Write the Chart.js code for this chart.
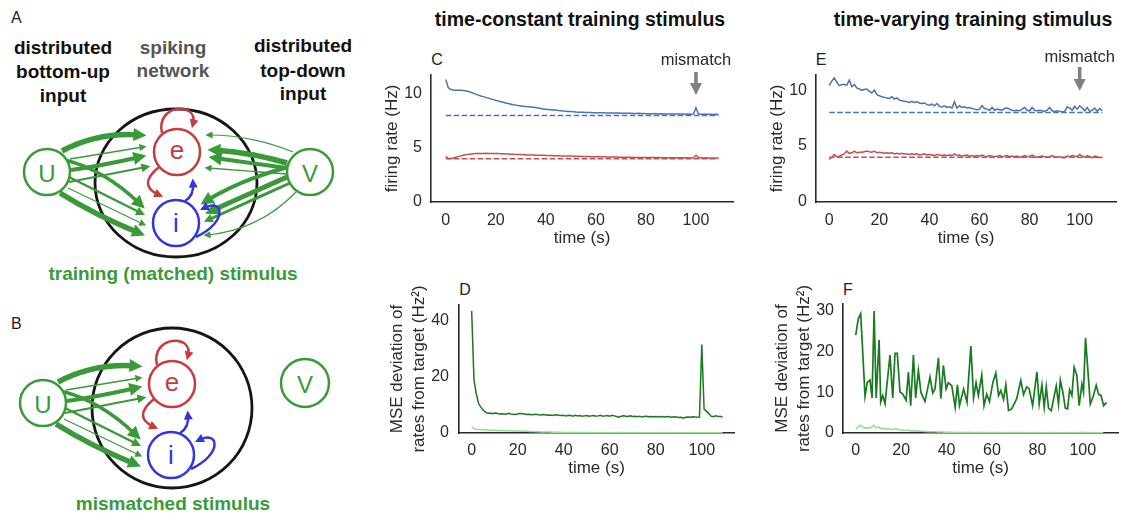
<!DOCTYPE html>
<html>
<head>
<meta charset="utf-8">
<script src="https://cdn.jsdelivr.net/npm/chart.js@4/dist/chart.umd.min.js"></script>
<style>
  html,body{margin:0;padding:0;background:#fff;}
  body{width:1122px;height:514px;position:relative;overflow:hidden;font-family:"Liberation Sans",Arial,Helvetica,sans-serif;color:#222;}
  .t{position:absolute;transform:translate(-50%,-50%);white-space:nowrap;line-height:1;}
  .title{font-weight:bold;font-size:19.5px;color:#111;}
  .lab{font-size:16px;color:#222;}
  canvas{position:absolute;}
</style>
</head>
<body>

<svg width="380" height="514" style="position:absolute;left:0;top:0" font-family="Liberation Sans, Arial, sans-serif">
  <defs>
    <marker id="gL" viewBox="0 0 10 10" refX="5" refY="5" markerWidth="16" markerHeight="13" markerUnits="userSpaceOnUse" orient="auto"><path d="M0,0 L10,5 L0,10 z" fill="#3a9a3a"/></marker>
    <marker id="gM" viewBox="0 0 10 10" refX="5" refY="5" markerWidth="11" markerHeight="9" markerUnits="userSpaceOnUse" orient="auto"><path d="M0,0 L10,5 L0,10 z" fill="#3a9a3a"/></marker>
    <marker id="gS" viewBox="0 0 10 10" refX="5" refY="5" markerWidth="8" markerHeight="7" markerUnits="userSpaceOnUse" orient="auto"><path d="M0,0 L10,5 L0,10 z" fill="#3a9a3a"/></marker>
    <marker id="rH" viewBox="0 0 10 10" refX="5" refY="5" markerWidth="10" markerHeight="9" markerUnits="userSpaceOnUse" orient="auto"><path d="M0,0 L10,5 L0,10 z" fill="#c43c3c"/></marker>
    <marker id="bH" viewBox="0 0 10 10" refX="5" refY="5" markerWidth="10" markerHeight="9" markerUnits="userSpaceOnUse" orient="auto"><path d="M0,0 L10,5 L0,10 z" fill="#3535e0"/></marker>
    <g id="uGroup" fill="none" stroke="#3a9a3a">
      <path d="M62,151 Q98,132 140,135" stroke-width="5.5" marker-end="url(#gL)"/>
      <path d="M70,159 L143,147" stroke-width="1.3" marker-end="url(#gS)"/>
      <path d="M71,170 Q100,166 140,157" stroke-width="4" marker-end="url(#gL)"/>
      <path d="M69,182 L146,167" stroke-width="2" marker-end="url(#gM)"/>
      <path d="M65,160 Q105,170 140,204" stroke-width="3.5" marker-end="url(#gL)"/>
      <path d="M69,177 L141,213" stroke-width="2.5" marker-end="url(#gM)"/>
      <path d="M68,188 L143,224" stroke-width="1.2" marker-end="url(#gS)"/>
      <path d="M60,193 Q95,215 139,233" stroke-width="5.5" marker-end="url(#gL)"/>
      <circle cx="47" cy="172" r="23" fill="#fff" stroke-width="2.5"/>
      <text x="47" y="173" fill="#3a9a3a" stroke="none" font-size="24" text-anchor="middle" dominant-baseline="central">U</text>
    </g>
    <g id="netGroup" fill="none">
      <path d="M162,133 C155,104 199,101 193,124" stroke="#c43c3c" stroke-width="2.5" marker-end="url(#rH)"/>
      <path d="M159,167 Q137,185 159,195" stroke="#c43c3c" stroke-width="2.5" marker-end="url(#rH)"/>
      <path d="M185,201 Q194,196 193,183" stroke="#3535e0" stroke-width="2.5" marker-end="url(#bH)"/>
      <path d="M196,237 C228,222 224,198 204,208" stroke="#3535e0" stroke-width="2.5" marker-end="url(#bH)"/>
      <circle cx="177" cy="152" r="23" stroke="#c43c3c" stroke-width="2.5"/>
      <circle cx="176" cy="223" r="23" stroke="#3535e0" stroke-width="2.5"/>
      <text x="177" y="150" fill="#c43c3c" font-size="26" text-anchor="middle" dominant-baseline="central">e</text>
      <text x="176" y="223" fill="#3535e0" font-size="26" text-anchor="middle" dominant-baseline="central">i</text>
    </g>
  </defs>

  <!-- Panel A -->
  <text x="11" y="23" font-size="16" fill="#222">A</text>
  <g font-weight="bold" font-size="19" text-anchor="middle" fill="#111">
    <text x="63" y="54">distributed</text>
    <text x="63" y="78">bottom-up</text>
    <text x="63" y="102">input</text>
    <text x="173" y="54" fill="#555">spiking</text>
    <text x="173" y="77" fill="#555">network</text>
    <text x="303" y="52">distributed</text>
    <text x="303" y="77">top-down</text>
    <text x="303" y="100">input</text>
  </g>
  <ellipse cx="176" cy="183" rx="81" ry="74" fill="none" stroke="#151515" stroke-width="2.8"/>
  <use href="#uGroup"/>
  <g fill="none" stroke="#3a9a3a">
    <path d="M293,152 Q250,135 209,135" stroke-width="1.2" marker-end="url(#gS)"/>
    <path d="M287,163 Q250,152 214,150" stroke-width="5.5" marker-end="url(#gL)"/>
    <path d="M287,168 L215,158" stroke-width="4" marker-end="url(#gL)"/>
    <path d="M287,174 L208,168" stroke-width="1.3" marker-end="url(#gS)"/>
    <path d="M288,167 Q240,180 206,201" stroke-width="4" marker-end="url(#gL)"/>
    <path d="M287,177 L211,211" stroke-width="5" marker-end="url(#gL)"/>
    <path d="M290,183 L208,220" stroke-width="3" marker-end="url(#gM)"/>
    <path d="M297,191 Q260,230 207,235" stroke-width="1.2" marker-end="url(#gS)"/>
    <circle cx="310" cy="172" r="23" fill="#fff" stroke-width="2.5"/>
    <text x="310" y="173" fill="#3a9a3a" stroke="none" font-size="24" text-anchor="middle" dominant-baseline="central">V</text>
  </g>
  <use href="#netGroup"/>
  <text x="173" y="280" font-size="19" font-weight="bold" fill="#3a9a3a" text-anchor="middle">training (matched) stimulus</text>

  <!-- Panel B -->
  <text x="11" y="329" font-size="16" fill="#222">B</text>
  <circle cx="172" cy="408" r="80" fill="none" stroke="#151515" stroke-width="2.8"/>
  <use href="#uGroup" transform="translate(-4,231)"/>
  <use href="#netGroup" transform="translate(-5,232)"/>
  <circle cx="305" cy="383" r="24" fill="none" stroke="#3a9a3a" stroke-width="2.5"/>
  <text x="305" y="384" fill="#3a9a3a" font-size="24" text-anchor="middle" dominant-baseline="central">V</text>
  <text x="173" y="510" font-size="19" font-weight="bold" fill="#3a9a3a" text-anchor="middle">mismatched stimulus</text>
</svg>

<div class="t title" style="left:580px;top:20px">time-constant training stimulus</div>
<div class="t title" style="left:973px;top:20px">time-varying training stimulus</div>
<div class="t lab" style="left:437px;top:60px">C</div>
<div class="t lab" style="left:821px;top:60px">E</div>
<div class="t lab" style="left:465px;top:290px">D</div>
<div class="t lab" style="left:848px;top:290px">F</div>

<canvas id="cC" width="370" height="220" style="left:380px;top:40px"></canvas>
<canvas id="cE" width="372" height="220" style="left:750px;top:40px"></canvas>
<canvas id="cD" width="370" height="210" style="left:380px;top:280px"></canvas>
<canvas id="cF" width="372" height="210" style="left:750px;top:280px"></canvas>

<script>
// ---------------- data ----------------
const seconds = Array.from({length:110}, (_, i) => i);   // sampling grid (s)
const timeTicks = [0, 20, 40, 60, 80, 100];
const rateTicks = [0, 5, 10];
const mseTicksD = [0, 20, 40];
const mseTicksF = [0, 10, 20, 30];
const mismatchTime = 100;
const targetTimes = [0, 109];
const targetI = [8, 8];   // inhibitory target rate (Hz)
const targetE = [4, 4];   // excitatory target rate (Hz)

// Panel C: time-constant stimulus, firing rates
const cBlue = [
 11.35,10.6,10.42,10.37,10.35,10.34,10.35,10.33,10.3,10.24,
 10.16,10.08,9.99,9.9,9.82,9.76,9.69,9.62,9.55,9.48,
 9.41,9.35,9.29,9.23,9.17,9.12,9.06,9.0,8.97,8.93,
 8.9,8.87,8.84,8.82,8.8,8.77,8.74,8.7,8.66,8.62,
 8.58,8.57,8.55,8.53,8.51,8.48,8.46,8.43,8.41,8.39,
 8.37,8.35,8.33,8.32,8.3,8.31,8.29,8.28,8.28,8.27,
 8.27,8.26,8.27,8.26,8.25,8.25,8.24,8.24,8.23,8.23,
 8.22,8.22,8.21,8.22,8.21,8.2,8.2,8.21,8.19,8.19,
 8.18,8.18,8.17,8.18,8.17,8.16,8.17,8.16,8.16,8.15,
 8.15,8.16,8.14,8.15,8.14,8.14,8.13,8.14,8.13,8.14,
 8.72,8.15,8.13,8.12,8.13,8.12,8.12,8.11,8.12,8.11];
const cRed = [
 4.22,4.02,4.03,4.08,4.14,4.2,4.27,4.33,4.38,4.41,
 4.44,4.46,4.48,4.49,4.5,4.5,4.51,4.5,4.5,4.49,
 4.48,4.48,4.47,4.46,4.45,4.44,4.43,4.42,4.41,4.4,
 4.39,4.38,4.37,4.36,4.36,4.35,4.34,4.33,4.33,4.32,
 4.31,4.3,4.3,4.29,4.28,4.28,4.27,4.26,4.26,4.25,
 4.25,4.24,4.23,4.23,4.22,4.22,4.21,4.21,4.2,4.2,
 4.19,4.19,4.18,4.18,4.17,4.17,4.17,4.16,4.16,4.15,
 4.15,4.15,4.14,4.14,4.14,4.13,4.13,4.13,4.12,4.12,
 4.12,4.12,4.11,4.11,4.11,4.11,4.1,4.1,4.1,4.1,
 4.1,4.1,4.09,4.1,4.09,4.09,4.09,4.09,4.08,4.09,
 4.33,4.1,4.09,4.08,4.09,4.08,4.08,4.08,4.07,4.08];

// Panel E: time-varying stimulus, firing rates
const eBlue = [
 10.4,10.8,11.1,10.7,10.4,10.5,10.5,10.45,10.9,10.3,
 10.5,10.2,10.1,10.0,10.05,10.1,9.9,9.75,10.0,9.6,
 9.5,9.4,9.35,9.3,9.25,9.4,9.2,9.3,9.1,9.05,
 9.0,8.95,8.9,9.0,8.9,8.95,8.85,8.8,8.85,8.7,
 8.65,8.75,8.6,8.8,8.55,8.5,8.6,8.45,8.5,8.4,
 8.95,8.4,8.6,8.45,8.5,8.4,8.45,8.35,8.3,8.25,
 8.3,8.6,8.35,8.3,8.2,8.45,8.2,8.3,8.25,8.2,
 8.35,8.4,8.3,8.2,8.15,8.2,8.15,8.3,8.45,8.2,
 8.15,8.45,8.2,8.15,8.2,8.15,8.1,8.2,8.45,8.15,
 8.1,8.15,8.1,8.05,8.1,8.5,8.4,8.2,8.55,8.3,
 8.6,8.4,8.15,8.45,8.1,8.2,8.4,8.1,8.35,8.15];
const eRed = [
 3.8,4.0,4.25,4.05,4.1,4.2,4.3,4.55,4.35,4.4,
 4.55,4.4,4.45,4.45,4.5,4.55,4.5,4.45,4.55,4.4,
 4.45,4.4,4.35,4.4,4.35,4.4,4.3,4.35,4.3,4.35,
 4.3,4.3,4.25,4.3,4.25,4.3,4.2,4.25,4.3,4.2,
 4.25,4.2,4.15,4.25,4.2,4.15,4.2,4.15,4.2,4.15,
 4.3,4.15,4.2,4.1,4.15,4.2,4.1,4.15,4.1,4.15,
 4.1,4.2,4.1,4.05,4.15,4.1,4.05,4.1,4.15,4.05,
 4.1,4.15,4.05,4.1,4.05,4.1,4.0,4.05,4.15,4.05,
 4.1,4.2,4.05,4.0,4.05,4.1,4.05,4.0,4.05,4.15,
 4.05,4.0,4.05,3.95,3.95,4.1,4.05,4.15,4.1,4.05,
 4.25,4.1,4.0,4.15,4.05,3.95,4.1,4.05,3.95,4.0];

// Panel D: time-constant stimulus, MSE (Hz^2)
const dMse = [
 43.5,19,14,10.5,9.2,8.2,7.4,7.0,7.1,6.9,
 7.1,7.0,6.8,6.9,6.8,6.7,7.0,6.8,6.7,6.6,
 6.8,7.0,6.9,6.8,6.6,6.7,6.5,6.6,6.7,6.5,
 6.4,6.6,6.5,6.3,6.4,6.2,6.4,6.5,6.3,6.2,
 6.3,6.1,6.3,6.2,6.0,6.3,6.1,6.2,6.0,6.1,
 6.2,6.0,6.1,6.2,6.0,6.1,6.3,6.0,6.1,6.2,
 6.0,6.3,6.1,5.9,5.6,6.0,6.1,6.0,5.9,6.1,
 5.9,6.0,5.8,6.0,5.7,5.9,6.0,5.8,5.9,5.8,
 5.9,5.7,5.9,5.8,5.7,5.9,5.8,5.6,5.8,5.7,
 5.5,5.6,5.3,5.6,5.7,5.6,5.8,5.7,5.6,5.7,
 31.5,8.5,7.8,7.0,6.0,5.8,6.1,5.9,6.0,5.6];
const dMsePop = [
 2.3,1.6,1.35,1.25,1.2,1.15,1.1,1.05,1.0,0.98,
 0.95,0.92,0.9,0.87,0.85,0.82,0.8,0.77,0.75,0.72,
 0.7,0.67,0.64,0.61,0.58,0.55,0.52,0.49,0.46,0.43,
 0.4,0.38,0.36,0.34,0.32,0.3,0.28,0.26,0.25,0.24,
 0.22,0.21,0.2,0.19,0.18,0.17,0.16,0.15,0.15,0.14,
 0.13,0.13,0.12,0.12,0.11,0.11,0.1,0.1,0.1,0.09,
 0.09,0.09,0.08,0.08,0.08,0.08,0.07,0.07,0.07,0.07,
 0.07,0.06,0.06,0.06,0.06,0.06,0.06,0.06,0.05,0.05,
 0.05,0.05,0.05,0.05,0.05,0.05,0.05,0.05,0.05,0.05,
 0.05,0.05,0.05,0.05,0.05,0.05,0.05,0.05,0.05,0.05,
 0.12,0.06,0.05,0.05,0.05,0.05,0.05,0.05,0.05,0.05];

// Panel F: time-varying stimulus, MSE (Hz^2)
const fTime = [0,1.1,2.2,4.1,5.1,6.3,7.2,8.1,9.0,10.3,11.0,11.9,12.9,15.1,16.3,17.3,18.3,19.5,20.7,22.2,
 23.2,24.2,25.4,26.4,27.6,28.7,30.5,32.7,33.9,34.9,36.4,37.5,38.6,39.8,40.8,42.3,43.8,44.8,45.7,47.5,
 49.0,50.7,51.9,53.0,54.0,55.5,56.5,57.7,58.9,60.4,61.7,62.9,63.9,65.1,66.1,67.3,68.7,70.9,72.7,73.9,
 75.3,76.4,77.9,79.8,80.8,82.0,83.0,83.9,84.9,86.1,88.3,89.3,90.1,91.2,92.3,93.3,94.2,95.2,96.2,97.4,
 98.4,99.6,100.3,101.2,103.3,104.7,105.9,107.0,108.0,109.2,110.4];
const fMse = [24.0,27.9,29.2,9.0,12.4,13.0,8.6,29.9,8.6,22.8,7.6,9.2,7.2,19.1,8.6,19.5,19.5,10.0,9.6,8.0,
 14.9,6.7,19.1,8.6,15.3,10.0,7.7,13.7,9.8,10.8,18.4,8.4,16.6,10.8,12.3,11.6,6.3,11.8,6.7,10.8,
 7.5,21.3,8.6,12.3,9.2,14.2,6.7,9.5,7.7,12.4,14.7,9.2,10.4,8.2,11.8,5.5,5.9,8.4,12.9,9.4,
 11.3,10.8,6.7,15.0,7.1,11.8,6.3,11.3,6.1,5.5,11.5,7.1,12.9,10.0,6.1,5.9,10.6,9.2,16.1,14.1,
 6.7,12.0,10.0,23.3,7.1,9.2,11.7,9.4,9.2,6.7,7.5];
const fMsePop = [
 1.0,1.4,1.9,1.5,1.2,1.3,1.25,1.4,1.9,1.2,
 1.5,1.1,1.15,1.0,1.1,0.95,0.8,1.0,1.1,0.8,
 0.75,0.65,0.6,0.7,0.5,0.55,0.5,0.55,0.45,0.4,
 0.35,0.35,0.3,0.3,0.28,0.3,0.25,0.22,0.25,0.2,
 0.2,0.18,0.2,0.15,0.17,0.15,0.14,0.16,0.13,0.12,
 0.2,0.12,0.1,0.11,0.1,0.12,0.1,0.09,0.1,0.11,
 0.15,0.1,0.09,0.1,0.08,0.1,0.09,0.08,0.1,0.09,
 0.08,0.1,0.12,0.08,0.09,0.08,0.1,0.08,0.07,0.09,
 0.12,0.08,0.07,0.09,0.08,0.07,0.08,0.1,0.07,0.08,
 0.07,0.08,0.07,0.09,0.15,0.08,0.07,0.1,0.08,0.12,
 0.18,0.09,0.07,0.08,0.1,0.07,0.08,0.07,0.09,0.07];

// ---------------- styling ----------------
const FONT = "'Liberation Sans', Arial, Helvetica, sans-serif";
const AXC = '#2a2a2a', TXT = '#2a2a2a';
const BLUE = '#4c72b0', RED = '#c44e52', DKGREEN = '#197a22', LTGREEN = '#8fdf8f';

function pts(xs, ys){ return xs.map((x,i)=>({x:x, y:ys[i]})); }
function ds(xs, ys, color, dash, width){
  return {data: pts(xs, ys), borderColor: color, borderWidth: width||1.5, borderDash: dash||[], pointRadius:0, fill:false, tension:0};
}

function mismatchPlugin(labelY, top, bottom){
  return {
    id:'mismatch',
    afterDraw(chart){
      const c = chart.ctx, x = chart.scales.x.getPixelForValue(mismatchTime);
      c.save();
      c.fillStyle = TXT; c.font = "16.5px " + FONT; c.textAlign = 'center'; c.textBaseline = 'middle';
      c.fillText('mismatch', x, labelY);
      c.fillStyle = '#808080';
      c.fillRect(x-1.8, top, 3.6, bottom-top-10);
      c.beginPath(); c.moveTo(x-6, bottom-12); c.lineTo(x+6, bottom-12); c.lineTo(x, bottom); c.closePath(); c.fill();
      c.restore();
    }
  };
}

function mk(id, o){
  return new Chart(document.getElementById(id), {
    type:'line',
    data:{datasets:o.datasets},
    options:{
      responsive:false, animation:false, devicePixelRatio:1,
      layout:{padding:o.pad},
      plugins:{legend:{display:false}, tooltip:{enabled:false}},
      scales:{
        x:{type:'linear', min:o.xmin, max:o.xmax,
           grid:{display:false, drawTicks:false},
           border:{display:true, color:AXC, width:1.6},
           ticks:{font:{size:16, family:FONT}, color:TXT, padding:o.xtp, maxRotation:0, autoSkip:false},
           afterBuildTicks:s=>{ s.ticks = timeTicks.map(v=>({value:v})); },
           afterFit:s=>{ s.height = o.xh; },
           title:{display:true, text:'time (s)', font:{size:17, family:FONT, lineHeight:1.3}, color:TXT, padding:{top:0, bottom:o.xtitle}}},
        y:{type:'linear', min:o.ymin, max:o.ymax,
           grid:{display:false, drawTicks:false},
           border:{display:true, color:AXC, width:1.6},
           ticks:{font:{size:16, family:FONT}, color:TXT, padding:o.ytp, autoSkip:false},
           afterBuildTicks:s=>{ s.ticks = o.yticks.map(v=>({value:v})); },
           afterFit:s=>{ s.width = o.yw; },
           title:{display:true, text:o.ytitle, font:{size:17, family:FONT, lineHeight:1.3}, color:TXT, padding:{top:o.ytitlePad, bottom:0}}}
      }
    },
    plugins:o.plugins||[]
  });
}

mk('cC', {
  datasets:[ds(targetTimes,targetI,BLUE,[5.5,2.5]), ds(targetTimes,targetE,RED,[5.5,2.5]), ds(seconds,cBlue,BLUE), ds(seconds,cRed,RED)],
  pad:{left:0, top:35, right:17, bottom:0}, xmin:-5.9, xmax:114.8, ymin:0, ymax:11.76, yticks:rateTicks,
  yw:51, xh:58, xtp:9, ytp:9, xtitle:11, ytitle:'firing rate (Hz)', ytitlePad:1,
  plugins:[mismatchPlugin(20, 32, 55)]
});
mk('cE', {
  datasets:[ds(targetTimes,targetI,BLUE,[5.5,2.5]), ds(targetTimes,targetE,RED,[5.5,2.5]), ds(seconds,eBlue,BLUE), ds(seconds,eRed,RED)],
  pad:{left:0, top:35, right:6, bottom:0}, xmin:-5.3, xmax:114.5, ymin:0, ymax:11.35, yticks:rateTicks,
  yw:66, xh:58, xtp:9, ytp:9, xtitle:11, ytitle:'firing rate (Hz)', ytitlePad:16,
  plugins:[mismatchPlugin(17, 27, 51)]
});
mk('cD', {
  datasets:[ds(seconds,dMsePop,LTGREEN), ds(seconds,dMse,DKGREEN)],
  pad:{left:0, top:25, right:16, bottom:0}, xmin:-5.5, xmax:114, ymin:0, ymax:45.6, yticks:mseTicksD,
  yw:79, xh:57, xtp:8, ytp:10, xtitle:11, ytitle:['MSE deviation of','rates from target (Hz\u00B2)'], ytitlePad:6
});
mk('cF', {
  datasets:[ds(seconds,fMsePop,LTGREEN), ds(fTime,fMse,DKGREEN,[],1.7)],
  pad:{left:0, top:24, right:4, bottom:0}, xmin:-5.6, xmax:115.5, ymin:0, ymax:31.6, yticks:mseTicksF,
  yw:93, xh:57, xtp:8, ytp:9, xtitle:11, ytitle:['MSE deviation of','rates from target (Hz\u00B2)'], ytitlePad:21
});
</script>
</body>
</html>
